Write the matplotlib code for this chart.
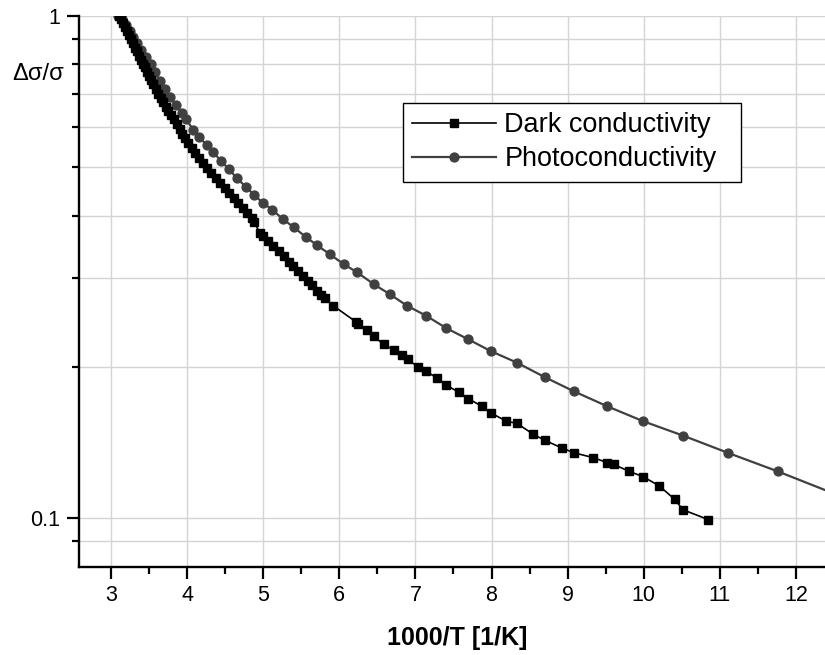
import numpy as np
import matplotlib
matplotlib.use('Agg')
import matplotlib.pyplot as plt
from matplotlib.ticker import NullFormatter, MultipleLocator

plt.rcParams['font.family'] = ['Liberation Sans', 'DejaVu Sans']

# dark conductivity (black squares)
dark_x = [3.105, 3.131, 3.158, 3.184, 3.210, 3.237, 3.263, 3.289, 3.315, 3.342,
          3.368, 3.394, 3.420, 3.447, 3.473, 3.499, 3.526, 3.552, 3.585, 3.618,
          3.650, 3.683, 3.716, 3.749, 3.788, 3.828, 3.867, 3.900, 3.933, 3.966,
          4.012, 4.058, 4.104, 4.156, 4.209, 4.262, 4.314, 4.373, 4.432, 4.491,
          4.551, 4.610, 4.669, 4.728, 4.787, 4.846, 4.879, 4.958, 4.997, 5.063,
          5.129, 5.201, 5.267, 5.332, 5.396, 5.461, 5.527, 5.589, 5.637, 5.703,
          5.760, 5.812, 5.917, 6.218, 6.244, 6.367, 6.451, 6.582, 6.719, 6.828,
          6.899, 7.036, 7.141, 7.290, 7.405, 7.576, 7.695, 7.875, 7.993, 8.196,
          8.333, 8.548, 8.697, 8.925, 9.084, 9.339, 9.523, 9.606, 9.808, 9.993,
          10.204, 10.410, 10.515, 10.849]
dark_y = [1.000, 0.985, 0.967, 0.950, 0.932, 0.915, 0.899, 0.882, 0.864, 0.849,
          0.833, 0.818, 0.803, 0.789, 0.773, 0.759, 0.745, 0.730, 0.715, 0.700,
          0.686, 0.672, 0.658, 0.646, 0.634, 0.622, 0.609, 0.595, 0.582, 0.571,
          0.558, 0.545, 0.533, 0.521, 0.509, 0.498, 0.486, 0.476, 0.465, 0.454,
          0.444, 0.434, 0.424, 0.414, 0.405, 0.396, 0.389, 0.369, 0.364, 0.356,
          0.348, 0.340, 0.332, 0.324, 0.318, 0.311, 0.303, 0.297, 0.291, 0.283,
          0.278, 0.274, 0.265, 0.246, 0.244, 0.2365, 0.230, 0.222, 0.216, 0.211,
          0.207, 0.200, 0.196, 0.190, 0.184, 0.178, 0.173, 0.167, 0.162, 0.156,
          0.1545, 0.147, 0.143, 0.138, 0.135, 0.132, 0.129, 0.128, 0.124, 0.121,
          0.116, 0.109, 0.104, 0.0994]

# photoconductivity (grey circles)
photo_x = [3.092, 3.141, 3.197, 3.243, 3.293, 3.338, 3.390, 3.456, 3.522, 3.578,
           3.644, 3.710, 3.775, 3.854, 3.929, 3.986, 4.081, 4.160, 4.258, 4.344,
           4.445, 4.551, 4.652, 4.770, 4.879, 4.997, 5.120, 5.256, 5.405, 5.558,
           5.711, 5.878, 6.062, 6.229, 6.456, 6.666, 6.886, 7.140, 7.405, 7.695,
           7.993, 8.335, 8.697, 9.079, 9.523, 9.993, 10.520, 11.105, 11.760, 12.500]
photo_y = [1.000, 0.984, 0.958, 0.932, 0.908, 0.881, 0.855, 0.829, 0.801, 0.771,
           0.742, 0.715, 0.690, 0.664, 0.639, 0.623, 0.592, 0.573, 0.553, 0.535,
           0.514, 0.495, 0.475, 0.457, 0.440, 0.424, 0.411, 0.394, 0.379, 0.363,
           0.349, 0.335, 0.320, 0.309, 0.292, 0.279, 0.265, 0.253, 0.239, 0.227,
           0.215, 0.204, 0.191, 0.179, 0.167, 0.156, 0.146, 0.135, 0.124, 0.112]

x_ticks = [3, 4, 5, 6, 7, 8, 9, 10, 11, 12]
y_major = [0.1, 1]
y_major_labels = ['0.1', '1']
y_minor = [0.09, 0.2, 0.3, 0.4, 0.5, 0.6, 0.7, 0.8, 0.9]

fig = plt.figure(figsize=(8.25, 6.55), dpi=100)
ax = fig.add_axes([0.0958, 0.1348, 0.9042, 0.8412])

ax.plot(dark_x, dark_y, color='black', lw=1.2, marker='s', ms=5.3,
        label='Dark conductivity', zorder=3)
ax.plot(photo_x, photo_y, color='#404040', lw=1.6, marker='o', ms=6.4,
        label='Photoconductivity', zorder=2)

ax.set_yscale('log')
ax.set_xlim(2.579, 12.383)
ax.set_ylim(0.0801, 1.0)

ax.set_xticks(x_ticks)
ax.xaxis.set_minor_locator(MultipleLocator(0.5))
ax.set_yticks(y_major, y_major_labels)
ax.set_yticks(y_minor, minor=True)
ax.yaxis.set_minor_formatter(NullFormatter())

ax.tick_params(which='major', direction='out', length=8.5, width=1.6,
               labelsize=15.5, pad=5)
ax.tick_params(which='minor', direction='out', length=4.8, width=1.6)

ax.set_axisbelow(True)
ax.grid(True, which='major', axis='x', color='#d4d4d4', lw=1)
ax.grid(True, which='both', axis='y', color='#d4d4d4', lw=1)

for s in ['top', 'right']:
    ax.spines[s].set_visible(False)
for s in ['left', 'bottom']:
    ax.spines[s].set_linewidth(1.7)

ax.set_xlabel('1000/T [1/K]', fontsize=18, fontweight='bold')
ax.xaxis.set_label_coords(0.507, -0.108)
fig.text(38 / 825, 1 - 74 / 655, 'Δσ/σ', fontsize=17,
         ha='center', va='center')

# legend box spans about 338 px wide starting at x=403 px
leg_h = 74 / 551
leg = ax.legend(loc='upper left', bbox_to_anchor=(0.434, 0.842 - leg_h, 0.453, leg_h),
                mode='expand', borderaxespad=0,
                fontsize=19.5, fancybox=False, framealpha=1, edgecolor='black',
                handlelength=3.1, handletextpad=0.3, labelspacing=0.3, borderpad=0.35)
leg.get_frame().set_linewidth(1.0)

fig.savefig('out.png', dpi=100)
